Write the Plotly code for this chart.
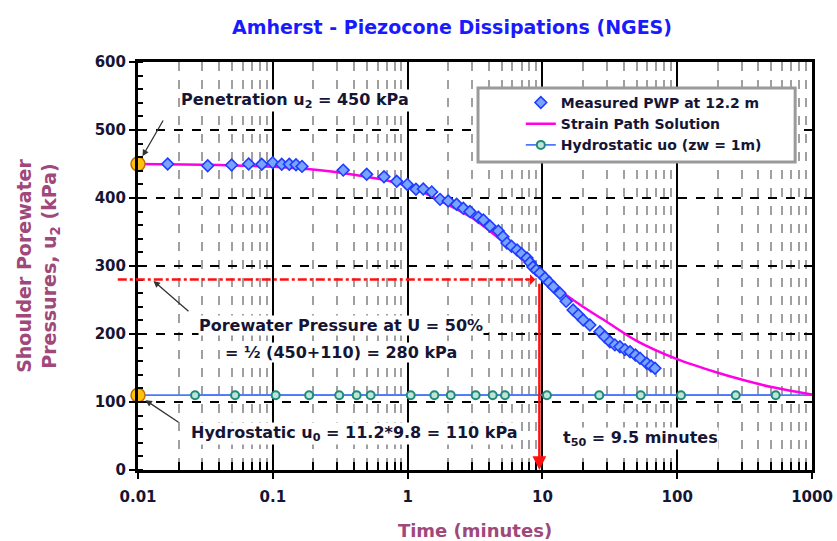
import math
import plotly.graph_objects as go

# ---------------- data ----------------
meas_t = [0.0166, 0.0329, 0.0495, 0.0662, 0.0828, 0.0998, 0.1165, 0.1325, 0.1486, 0.1647,
          0.333, 0.497, 0.668, 0.830, 0.995, 1.154, 1.307, 1.51, 1.74, 2.0, 2.31, 2.59, 2.90,
          3.35, 3.65, 4.08, 4.71, 5.1, 5.46, 5.9, 6.49, 7.0, 7.69, 8.1, 8.51, 9.0, 9.6, 10.45,
          11.2, 12.05, 13.5, 15.0, 16.9, 18.5, 20.1, 22.5, 26.7, 29.0, 31.7, 34.5, 37.6, 41.0,
          44.7, 49.0, 53.0, 59.4, 64.0, 68.4]
meas_u = [450, 447.5, 448.5, 450, 449.5, 452, 449.5, 449.5, 449, 446.5,
          441, 434.8, 431.3, 424.5, 420, 412.8, 413.2, 409, 398, 395.6, 390.7, 384.8, 380,
          371.6, 367.6, 358.8, 351.5, 343, 333.8, 329, 323.5, 318, 311.8, 305, 298.5, 294, 289.7, 282.4,
          276, 269.6, 259.9, 248, 235.3, 228, 220.6, 213.2, 203.4, 196, 188.7, 184, 181.3, 177,
          174, 169, 164.3, 157, 153, 149.6]

strain_t = [0.01, 0.03, 0.1, 0.3, 1, 2, 3, 5, 10, 20, 30, 50, 100, 200, 300, 500, 1000]
strain_u = [450, 449, 446, 438, 418, 390, 371, 337, 284, 240, 218, 190, 163, 143, 133, 122, 111]

hydro_t = [0.0265, 0.0525, 0.105, 0.186, 0.311, 0.419, 0.532, 1.055, 1.58, 2.09, 3.20, 4.28,
           5.28, 10.8, 26.4, 53.6, 106.7, 271.8, 538]
u0 = 110
hydro_span = [0.01, 1000]

u_pen = 450          # penetration u2
u50 = 280            # porewater pressure at U = 50%
t50 = 9.5            # minutes
t_start = 0.01

x_ticks = [0.01, 0.1, 1, 10, 100, 1000]
x_ticktext = ["0.01", "0.1", "1", "10", "100", "1000"]
x_minor = [m * 10 ** e for e in range(-2, 3) for m in range(2, 10)]

# ---------------- styling ----------------
BOLD = "DejaVu Sans, Arial, sans-serif"
TXT = "#151535"
MAUVE = "#a0487a"

fig = go.Figure()

fig.add_trace(go.Scatter(
    x=hydro_span, y=[u0, u0], mode="lines", line=dict(color="#4a78ff", width=1.8),
    showlegend=False, hoverinfo="skip"))

fig.add_trace(go.Scatter(
    x=strain_t, y=strain_u, mode="lines", name="Strain Path Solution", legendrank=2,
    line=dict(color="#ff00e6", width=2.5, shape="spline", smoothing=0.8)))

fig.add_trace(go.Scatter(
    x=hydro_t, y=[u0] * len(hydro_t), mode="lines+markers", name="Hydrostatic uo (zw = 1m)",
    legendrank=3,
    line=dict(color="#4a78ff", width=1.8),
    marker=dict(symbol="circle", size=8, color="#bfe3d6",
                line=dict(color="#1f8a78", width=2))))

fig.add_trace(go.Scatter(
    x=meas_t, y=meas_u, mode="markers", name="Measured PWP at 12.2 m", legendrank=1,
    marker=dict(symbol="diamond", size=9, color="#78a4ff",
                line=dict(color="#1f3cff", width=1.6))))

# orange reference points
fig.add_trace(go.Scatter(
    x=[t_start, t_start], y=[u_pen, u0], mode="markers", showlegend=False,
    cliponaxis=False,
    marker=dict(size=14, color="#ffc20e", line=dict(color="#c07000", width=1.5))))

lx = lambda v: math.log10(v)
x_lo, x_hi = lx(x_ticks[0]), lx(x_ticks[-1])

# red dash-dot horizontal line at U = 50%
fig.add_shape(type="line", xref="paper", yref="y",
              x0=-0.03, x1=(lx(t50) - x_lo) / (x_hi - x_lo) - 0.012,
              y0=u50, y1=u50, line=dict(color="#ff1010", width=2.5, dash="dashdot"))

# legend frame
fig.add_shape(type="rect", xref="paper", yref="paper", layer="above",
              x0=0.5045, x1=0.975, y0=0.755, y1=0.936,
              fillcolor="white", line=dict(color="#9a9a9a", width=3))

annotations = []
annotations.append(dict(x=lx(t50), y=u50, xref="x", yref="y", ax=-16, ay=0,
                        text="", showarrow=True, arrowhead=1, arrowsize=1.2,
                        arrowwidth=1.5, arrowcolor="#ff1010", standoff=4))
annotations.append(dict(x=lx(t50), y=0, xref="x", yref="y",
                        axref="x", ayref="y", ax=lx(t50), ay=u50 - 4,
                        text="", showarrow=True, arrowhead=2, arrowsize=1.1,
                        arrowwidth=2.5, arrowcolor="#ff1010"))
annotations.append(dict(x=lx(t_start), y=u_pen, xref="x", yref="y", ax=26, ay=-45,
                        text="", showarrow=True, arrowhead=2, arrowsize=1,
                        arrowwidth=1.3, arrowcolor="#333", standoff=9))
annotations.append(dict(x=lx(0.0127), y=u50, xref="x", yref="y", ax=38, ay=33,
                        text="", showarrow=True, arrowhead=2, arrowsize=1,
                        arrowwidth=1.3, arrowcolor="#333", standoff=2))
annotations.append(dict(x=lx(t_start), y=u0, xref="x", yref="y", ax=42, ay=28,
                        text="", showarrow=True, arrowhead=2, arrowsize=1,
                        arrowwidth=1.3, arrowcolor="#333", standoff=9))

tf = dict(family=BOLD, size=16, color=TXT, weight="bold")
common = dict(xref="x", yref="y", yanchor="middle", showarrow=False, font=tf,
              bgcolor="white", borderpad=0)
annotations.append(dict(x=-1.688, y=544, xanchor="left",
                        text="Penetration u<sub>2</sub> = 450 kPa", **common))
annotations.append(dict(x=-0.494, y=213, xanchor="center",
                        text="Porewater Pressure at U = 50%", **common))
annotations.append(dict(x=-0.494, y=173.5, xanchor="center",
                        text="= ½ (450+110) = 280 kPa", **common))
annotations.append(dict(x=-1.614, y=54, xanchor="left",
                        text="Hydrostatic u<sub>0</sub> = 11.2*9.8 = 110 kPa", **common))
annotations.append(dict(x=1.145, y=46, xanchor="left",
                        text="t<sub>50</sub> = 9.5 minutes", **common))

fig.update_layout(
    width=837, height=541,
    margin=dict(l=138, r=25, t=62, b=71, autoexpand=False),
    paper_bgcolor="white", plot_bgcolor="white",
    title=dict(text="Amherst - Piezocone Dissipations (NGES)",
               x=0.54, y=0.95, xanchor="center", yanchor="middle",
               font=dict(family="Comic Sans MS, DejaVu Sans, sans-serif", size=19,
                         color="#1a1aff", weight="bold")),
    legend=dict(x=0.568, y=0.939, xanchor="left", yanchor="top",
                bgcolor="rgba(0,0,0,0)", borderwidth=0,
                font=dict(family=BOLD, size=14, color=TXT, weight="bold"),
                traceorder="normal", tracegroupgap=0),
    annotations=annotations,
    showlegend=True,
)

fig.update_xaxes(
    type="log", range=[x_lo, x_hi], automargin=False,
    tickvals=x_ticks, ticktext=x_ticktext,
    tickfont=dict(family=BOLD, size=15, color=TXT, weight="bold"),
    ticks="outside", ticklen=6, tickwidth=2, tickcolor="black", ticklabelstandoff=5,
    showline=True, mirror=True, linewidth=3, linecolor="black",
    showgrid=True, gridcolor="black", gridwidth=1.5,
    minor=dict(tickvals=x_minor, ticks="inside", ticklen=8, tickwidth=1.5, tickcolor="black",
               showgrid=True, gridcolor="#a0a0a0", gridwidth=1.5, griddash="dash"),
    title=dict(text="Time (minutes)", standoff=22,
               font=dict(family=BOLD, size=18, color=MAUVE, weight="bold")),
    zeroline=False,
)

fig.update_yaxes(
    range=[0, 600], dtick=100, automargin=False,
    tickfont=dict(family=BOLD, size=15, color=TXT, weight="bold"),
    ticks="outside", ticklen=6, tickwidth=2, tickcolor="black",
    showline=True, mirror=True, linewidth=3, linecolor="black",
    showgrid=True, gridcolor="black", gridwidth=1.5, griddash="dash",
    minor=dict(dtick=20, ticks="inside", ticklen=5, tickwidth=1.5, tickcolor="black",
               showgrid=False),
    title=dict(text="Shoulder Porewater<br>Pressures, u<sub>2</sub> (kPa)", standoff=34,
               font=dict(family=BOLD, size=19, color=MAUVE, weight="bold")),
    zeroline=False,
)

fig.write_html("out.html")
